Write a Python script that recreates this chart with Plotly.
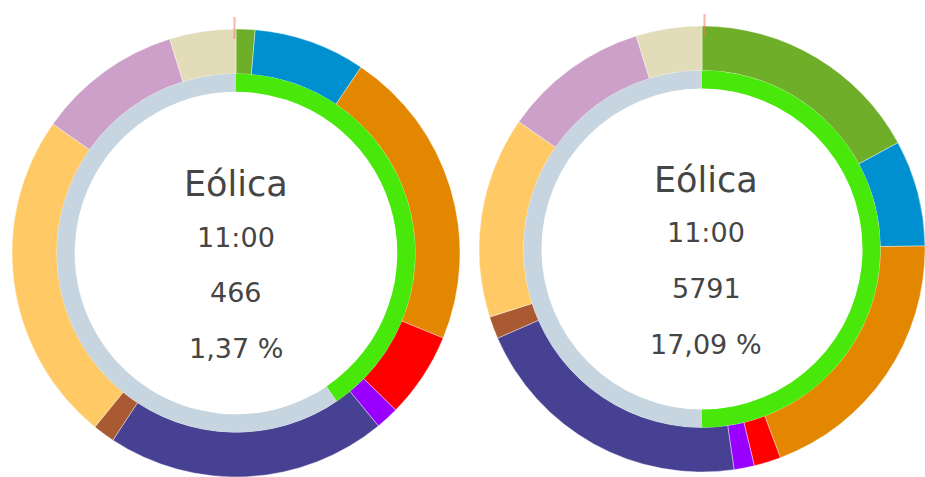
import plotly.graph_objects as go

# Generation mix by source (MW) at the same hour for two different days
sources = ["Eólica", "Hidráulica", "Solar fotovoltaica", "Solar térmica",
           "Otras renovables", "Nuclear", "Carbón", "Ciclo combinado",
           "Cogeneración y residuos", "Intercambios y otros"]
source_colors = ["#6fae29", "#0090d0", "#e38600", "#ff0000", "#9900ff",
                 "#464193", "#a95a32", "#ffc966", "#cca0c8", "#e2dcb8"]

mw_day1 = [466, 2740, 7408, 2098, 567, 6879, 539, 8140, 3553, 1625]
mw_day2 = [5791, 2607, 6608, 659, 499, 7032, 546, 4948, 3582, 1614]

# Renewable share (%) shown on the thin inner ring
renewable_share = [40.5, 50.0]
share_labels = ["Renovable", "No renovable"]
share_colors = ["#48e80a", "#c6d5df"]

hours = ["11:00", "11:00"]
highlight = "Eólica"

W, H = 925, 477
# ring geometry in pixels: centre x, centre y (from top), outer radius
rings = [
    dict(cx=236, cy=253, R=224),
    dict(cx=702, cy=249, R=223),
]
HOLE_OUTER = 0.80   # outer ring inner edge / outer radius
HOLE_INNER = 0.90   # thin ring inner edge / its outer radius

fig = go.Figure()


def dom(cx, cy, r):
    yb = H - cy
    return dict(x=[max(0, (cx - r) / W), min(1, (cx + r) / W)],
                y=[max(0, (yb - r) / H), min(1, (yb + r) / H)])


def fmt_pct(v):
    return f"{v:.2f}".replace(".", ",") + " %"


annotations = []
shapes = []
for geo, mw, share, hour in zip(rings, [mw_day1, mw_day2], renewable_share, hours):
    cx, cy, R = geo["cx"], geo["cy"], geo["R"]
    fig.add_trace(go.Pie(
        labels=sources, values=mw, sort=False, direction="clockwise", rotation=0,
        hole=HOLE_OUTER, domain=dom(cx, cy, R),
        marker=dict(colors=source_colors, line=dict(color="#ffffff", width=0.4)),
        textinfo="none", hoverinfo="label+value+percent", showlegend=False,
    ))
    r_in = R * HOLE_OUTER
    fig.add_trace(go.Pie(
        labels=share_labels, values=[share, 100 - share], sort=False,
        direction="clockwise", rotation=0, hole=HOLE_INNER,
        domain=dom(cx, cy, r_in),
        marker=dict(colors=share_colors, line=dict(width=0)),
        textinfo="none", hoverinfo="label+percent", showlegend=False,
    ))

    idx = sources.index(highlight)
    value = mw[idx]
    pct = value / sum(mw) * 100
    tx = 236 if cx < W / 2 else 706
    lines = [(highlight, 35, -69), (hour, 27, -16), (f"{value}", 27, 39),
             (fmt_pct(pct), 27, 95)]
    for text, size, dy in lines:
        annotations.append(dict(
            x=tx / W, y=(H - (cy + dy)) / H, xref="paper", yref="paper",
            text=text, showarrow=False, xanchor="center", yanchor="middle",
            font=dict(family="DejaVu Sans", size=size, color="#454545"),
        ))

    # current-time marker at 12 o'clock
    top = cy - R
    shapes.append(dict(
        type="line", xref="paper", yref="paper",
        x0=(tx - 1.5) / W, x1=(tx - 1.5) / W,
        y0=(H - (top - 12)) / H, y1=(H - (top + 10)) / H,
        line=dict(color="rgba(240,120,100,0.55)", width=2),
    ))

fig.update_layout(
    width=W, height=H, margin=dict(l=0, r=0, t=0, b=0),
    paper_bgcolor="#ffffff", plot_bgcolor="#ffffff",
    annotations=annotations, shapes=shapes, showlegend=False,
)

fig.write_html("out.html")
